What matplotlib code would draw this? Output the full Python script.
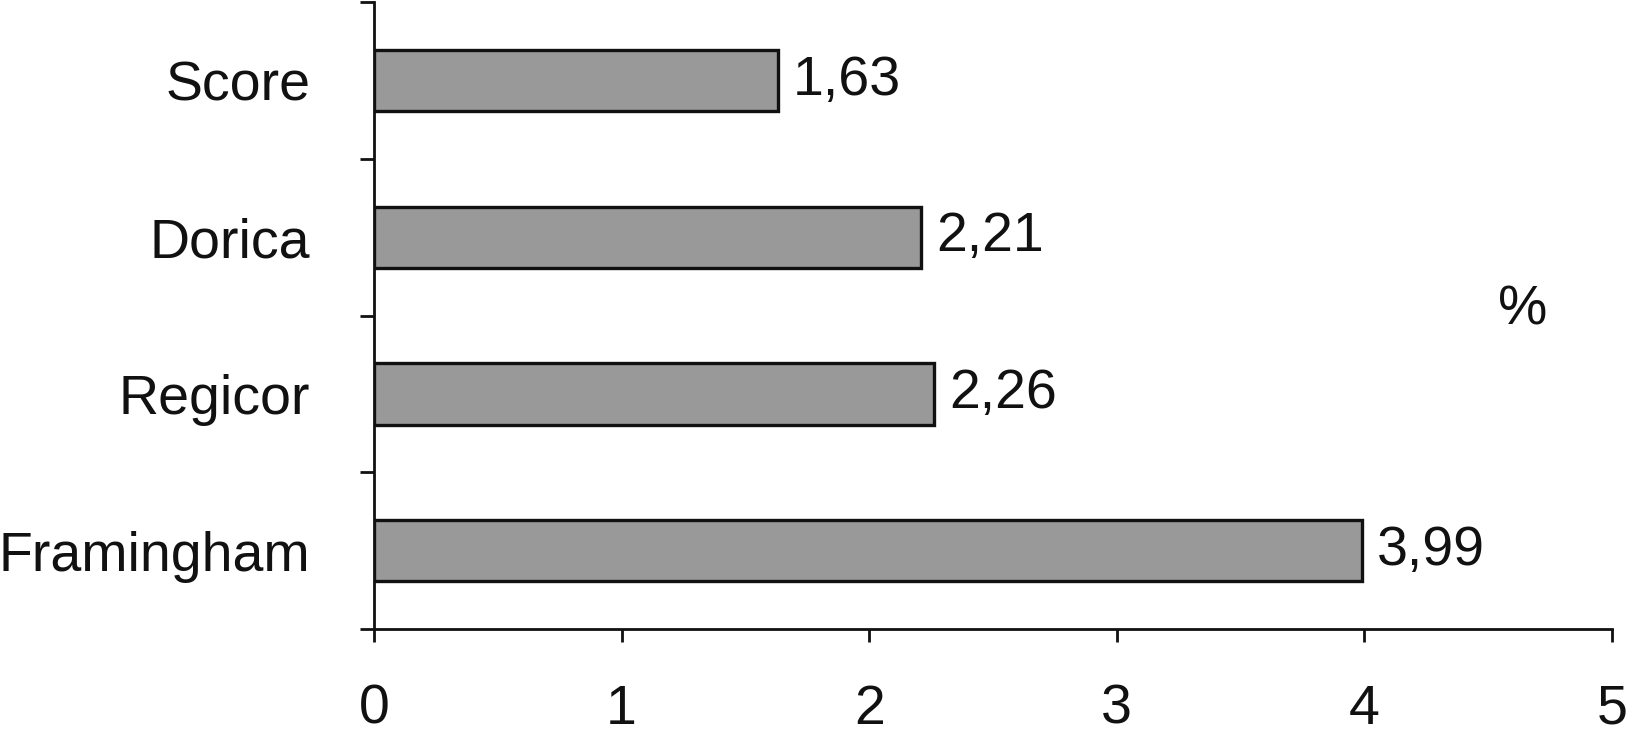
import numpy as np
import matplotlib
matplotlib.use("Agg")
import matplotlib.pyplot as plt

# data
categories = ["Framingham", "Regicor", "Dorica", "Score"]
values = [3.99, 2.26, 2.21, 1.63]
value_labels = ["3,99", "2,26", "2,21", "1,63"]
x_ticks = [0, 1, 2, 3, 4, 5]

plt.rcParams['font.family'] = ['Liberation Sans', 'DejaVu Sans']

fig = plt.figure(figsize=(16.32, 7.43), dpi=100)
ax = fig.add_axes([0.2292, 0.1534, 0.7585, 0.8436])

y = np.arange(len(categories))
bars = ax.barh(y, values, height=0.39, color="#999999", edgecolor="#111111", linewidth=2.4)

for b, lab in zip(bars, value_labels):
    ax.annotate(lab, (b.get_width(), b.get_y() + b.get_height() / 2),
                xytext=(11, 0), textcoords="offset points",
                ha="left", va="center", fontsize=40, color="#111111")

ax.set_xlim(0, 5)
ax.set_ylim(-0.5, len(categories) - 0.5)
ax.set_xticks(x_ticks)
ax.set_xticklabels([str(t) for t in x_ticks])
ax.set_yticks(y)
ax.set_yticklabels(categories)
ax.set_yticks(np.arange(-0.5, len(categories)), minor=True)

ax.tick_params(axis="x", direction="out", length=9.5, width=2, pad=30,
               labelsize=40, colors="#111111")
ax.tick_params(axis="y", which="major", length=0, pad=46, labelsize=40, colors="#111111")
ax.tick_params(axis="y", which="minor", direction="out", length=10, width=2, color="#111111")

for s in ["top", "right"]:
    ax.spines[s].set_visible(False)
for s in ["left", "bottom"]:
    ax.spines[s].set_linewidth(2)
    ax.spines[s].set_color("#111111")

ax.text(4.64, 1.53, "%", ha="center", va="center", fontsize=40, color="#111111")

fig.savefig("out.png", dpi=100, facecolor="white")
